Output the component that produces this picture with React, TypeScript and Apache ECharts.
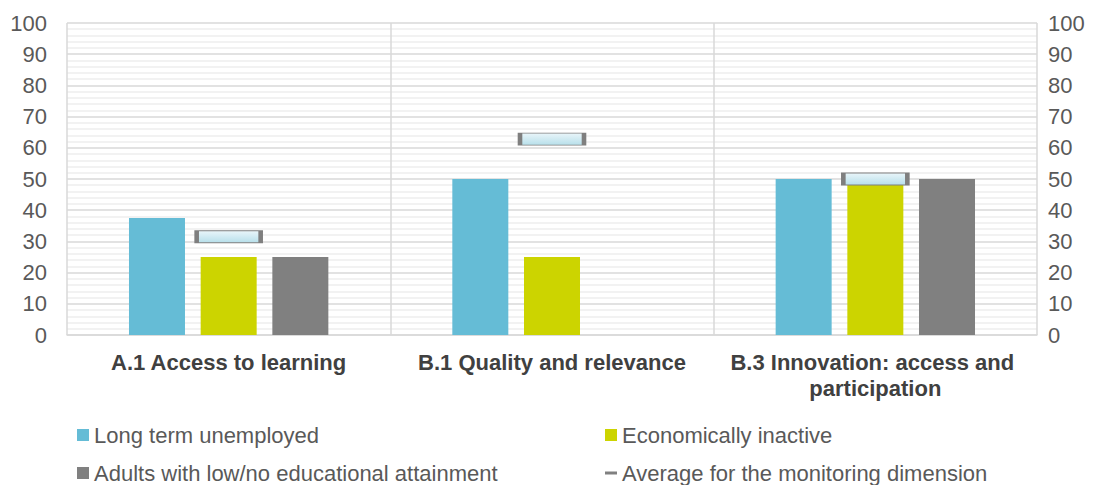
import React, { useEffect, useRef } from "react";
import * as echarts from "echarts";

const categories = [
  "A.1 Access to learning",
  "B.1 Quality and relevance",
  "B.3 Innovation: access and participation",
];
const longTermUnemployed = [37.5, 50, 50];
const economicallyInactive = [25, 25, 50];
const adultsLowEducation = [25, null, 50];
const averageDimension = [31.5, 62.8, 50];
const yTicks = [0, 10, 20, 30, 40, 50, 60, 70, 80, 90, 100];

const FONT = "'Liberation Sans', Arial, sans-serif";
const FS = 22;

export default function App() {
  const ref = useRef<HTMLDivElement>(null);
  useEffect(() => {
    if (!ref.current) return;
    const chart = echarts.init(ref.current, null, { renderer: "svg" });
    const yAxisCommon = {
      type: "value",
      min: yTicks[0],
      max: yTicks[yTicks.length - 1],
      interval: 10,
      axisLine: { show: false },
      axisTick: { show: false },
      axisLabel: { color: "#595959", fontSize: FS, fontFamily: FONT },
    };
    const legendBase = (left: number, top: number, item: any) => ({
      left,
      top,
      orient: "horizontal",
      itemWidth: 12,
      itemHeight: 12,
      itemGap: 5,
      padding: 0,
      textStyle: { color: "#595959", fontSize: FS, fontFamily: FONT },
      data: [item],
    });
    chart.setOption({
      animation: false,
      textStyle: { fontFamily: FONT },
      grid: { left: 67, right: 58, top: 23, bottom: 150, show: false },
      xAxis: {
        type: "category",
        data: categories,
        axisLine: { show: true, lineStyle: { color: "#d9d9d9", width: 1.5 } },
        axisTick: { show: false },
        splitLine: { show: true, lineStyle: { color: "#d9d9d9", width: 1.5 } },
        axisLabel: {
          color: "#404040",
          fontSize: FS,
          fontWeight: "bold",
          fontFamily: FONT,
          margin: 14,
          width: 320,
          overflow: "break",
          lineHeight: 26,
          interval: 0,
        },
      },
      yAxis: [
        {
          ...yAxisCommon,
          position: "left",
          axisLabel: { ...yAxisCommon.axisLabel, margin: 20 },
          splitLine: { show: true, lineStyle: { color: "#d9d9d9", width: 1.5 } },
          minorTick: { show: false, splitNumber: 5 },
          minorSplitLine: { show: true, lineStyle: { color: "#eeeeee", width: 1.5 } },
        },
        {
          ...yAxisCommon,
          position: "right",
          axisLabel: { ...yAxisCommon.axisLabel, margin: 11 },
          splitLine: { show: false },
        },
      ],
      legend: [
        legendBase(77, 424, { name: "Long term unemployed", icon: "rect" }),
        legendBase(77, 462, { name: "Adults with low/no educational attainment", icon: "rect" }),
        legendBase(605, 424, { name: "Economically inactive", icon: "rect" }),
        legendBase(605, 462, {
          name: "Average for the monitoring dimension",
          icon: "path://M0,0 L14,0 L14,3.5 L0,3.5 Z",
          itemStyle: { color: "#808080", borderWidth: 0 },
        }),
      ],
      series: [
        {
          name: "Long term unemployed",
          type: "bar",
          data: longTermUnemployed,
          barWidth: 56,
          barGap: "28%",
          itemStyle: { color: "#65bcd6" },
        },
        {
          name: "Economically inactive",
          type: "bar",
          data: economicallyInactive,
          barWidth: 56,
          barGap: "28%",
          itemStyle: { color: "#ccd400" },
        },
        {
          name: "Adults with low/no educational attainment",
          type: "bar",
          data: adultsLowEducation,
          barWidth: 56,
          barGap: "28%",
          itemStyle: { color: "#808080" },
        },
        {
          name: "Average for the monitoring dimension",
          type: "scatter",
          data: averageDimension,
          symbol: "rect",
          symbolSize: [64, 12],
          z: 5,
          itemStyle: {
            color: new echarts.graphic.LinearGradient(0, 0, 0, 1, [
              { offset: 0, color: "#eaf6fa" },
              { offset: 1, color: "#b7dfea" },
            ]),
            borderColor: "#7f7f7f",
            borderWidth: 2,
            opacity: 1,
          },
        },
      ],
    });
    return () => chart.dispose();
  }, []);
  return (
    <div
      ref={ref}
      style={{ position: "absolute", left: 0, top: 0, width: 1095, height: 485 }}
    />
  );
}
